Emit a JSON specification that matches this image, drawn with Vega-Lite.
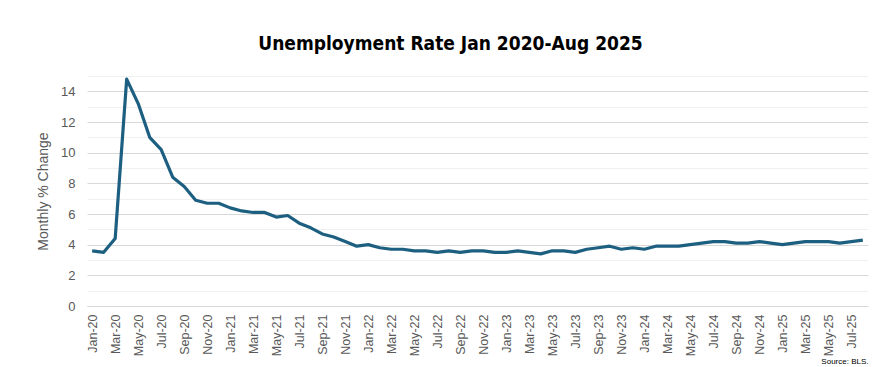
{
  "$schema": "https://vega.github.io/schema/vega-lite/v6.json",
  "autosize": "none",
  "width": 781,
  "height": 230,
  "padding": {"left": 87, "top": 76, "right": 10, "bottom": 61},
  "background": "white",
  "title": {
    "text": "Unemployment Rate Jan 2020-Aug 2025",
    "font": "DejaVu Sans Condensed",
    "fontSize": 19,
    "fontWeight": "bold",
    "color": "#000000",
    "anchor": "middle",
    "dx": -27,
    "offset": 22
  },
  "config": {
    "view": {"stroke": null},
    "axis": {"labelFont": "Liberation Sans", "titleFont": "Liberation Sans", "labelColor": "#595959", "titleColor": "#595959"}
  },
  "data": {
    "values": [
      {"month": "Jan-20", "rate": 3.6}, {"month": "Feb-20", "rate": 3.5}, {"month": "Mar-20", "rate": 4.4}, {"month": "Apr-20", "rate": 14.8},
      {"month": "May-20", "rate": 13.2}, {"month": "Jun-20", "rate": 11.0}, {"month": "Jul-20", "rate": 10.2}, {"month": "Aug-20", "rate": 8.4},
      {"month": "Sep-20", "rate": 7.8}, {"month": "Oct-20", "rate": 6.9}, {"month": "Nov-20", "rate": 6.7}, {"month": "Dec-20", "rate": 6.7},
      {"month": "Jan-21", "rate": 6.4}, {"month": "Feb-21", "rate": 6.2}, {"month": "Mar-21", "rate": 6.1}, {"month": "Apr-21", "rate": 6.1},
      {"month": "May-21", "rate": 5.8}, {"month": "Jun-21", "rate": 5.9}, {"month": "Jul-21", "rate": 5.4}, {"month": "Aug-21", "rate": 5.1},
      {"month": "Sep-21", "rate": 4.7}, {"month": "Oct-21", "rate": 4.5}, {"month": "Nov-21", "rate": 4.2}, {"month": "Dec-21", "rate": 3.9},
      {"month": "Jan-22", "rate": 4.0}, {"month": "Feb-22", "rate": 3.8}, {"month": "Mar-22", "rate": 3.7}, {"month": "Apr-22", "rate": 3.7},
      {"month": "May-22", "rate": 3.6}, {"month": "Jun-22", "rate": 3.6}, {"month": "Jul-22", "rate": 3.5}, {"month": "Aug-22", "rate": 3.6},
      {"month": "Sep-22", "rate": 3.5}, {"month": "Oct-22", "rate": 3.6}, {"month": "Nov-22", "rate": 3.6}, {"month": "Dec-22", "rate": 3.5},
      {"month": "Jan-23", "rate": 3.5}, {"month": "Feb-23", "rate": 3.6}, {"month": "Mar-23", "rate": 3.5}, {"month": "Apr-23", "rate": 3.4},
      {"month": "May-23", "rate": 3.6}, {"month": "Jun-23", "rate": 3.6}, {"month": "Jul-23", "rate": 3.5}, {"month": "Aug-23", "rate": 3.7},
      {"month": "Sep-23", "rate": 3.8}, {"month": "Oct-23", "rate": 3.9}, {"month": "Nov-23", "rate": 3.7}, {"month": "Dec-23", "rate": 3.8},
      {"month": "Jan-24", "rate": 3.7}, {"month": "Feb-24", "rate": 3.9}, {"month": "Mar-24", "rate": 3.9}, {"month": "Apr-24", "rate": 3.9},
      {"month": "May-24", "rate": 4.0}, {"month": "Jun-24", "rate": 4.1}, {"month": "Jul-24", "rate": 4.2}, {"month": "Aug-24", "rate": 4.2},
      {"month": "Sep-24", "rate": 4.1}, {"month": "Oct-24", "rate": 4.1}, {"month": "Nov-24", "rate": 4.2}, {"month": "Dec-24", "rate": 4.1},
      {"month": "Jan-25", "rate": 4.0}, {"month": "Feb-25", "rate": 4.1}, {"month": "Mar-25", "rate": 4.2}, {"month": "Apr-25", "rate": 4.2},
      {"month": "May-25", "rate": 4.2}, {"month": "Jun-25", "rate": 4.1}, {"month": "Jul-25", "rate": 4.2}, {"month": "Aug-25", "rate": 4.3}
    ]
  },
  "mark": {"type": "line", "color": "#1c5f80", "strokeWidth": 3.2, "strokeJoin": "round"},
  "encoding": {
    "x": {
      "field": "month",
      "type": "ordinal",
      "sort": null,
      "scale": {"type": "point", "padding": 0.45},
      "axis": {
        "values": ["Jan-20","Mar-20","May-20","Jul-20","Sep-20","Nov-20","Jan-21","Mar-21","May-21","Jul-21","Sep-21","Nov-21","Jan-22","Mar-22","May-22","Jul-22","Sep-22","Nov-22","Jan-23","Mar-23","May-23","Jul-23","Sep-23","Nov-23","Jan-24","Mar-24","May-24","Jul-24","Sep-24","Nov-24","Jan-25","Mar-25","May-25","Jul-25"],
        "labelAngle": -90,
        "labelFontSize": 12.5,
        "labelPadding": 8,
        "ticks": false,
        "domain": true,
        "domainColor": "#d9d9d9",
        "domainWidth": 1,
        "grid": false,
        "title": "Source: BLS.",
        "titleFontSize": 8,
        "titleFontWeight": "normal",
        "titleColor": "#000000",
        "titleAnchor": "end",
        "titlePadding": 2
      }
    },
    "y": {
      "field": "rate",
      "type": "quantitative",
      "scale": {"domain": [0, 15], "nice": false},
      "axis": {
        "values": [0,1,2,3,4,5,6,7,8,9,10,11,12,13,14,15],
        "labelExpr": "datum.value % 2 === 0 ? datum.label : ''",
        "labelFontSize": 13,
        "labelPadding": 12,
        "ticks": false,
        "domain": false,
        "grid": true,
        "gridColor": {"condition": {"test": "datum.value % 2 === 1", "value": "#f0f0f0"}, "value": "#d9d9d9"},
        "gridWidth": 1,
        "title": "Monthly % Change",
        "titleFontSize": 14,
        "titleFontWeight": "normal",
        "titlePadding": 10
      }
    }
  }
}
